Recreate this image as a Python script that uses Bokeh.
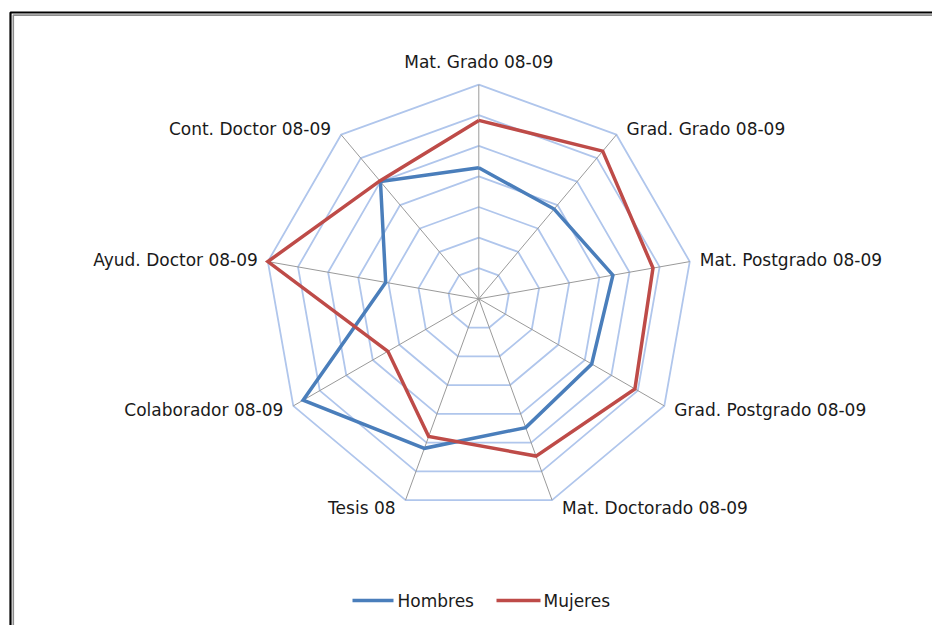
import math
from bokeh.plotting import figure
from bokeh.models import Range1d
from bokeh.core.properties import value
from bokeh.embed import file_html
from bokeh.resources import INLINE

# ---- data ----
categories = ["Mat. Grado 08-09", "Grad. Grado 08-09", "Mat. Postgrado 08-09",
              "Grad. Postgrado 08-09", "Mat. Doctorado 08-09", "Tesis 08",
              "Colaborador 08-09", "Ayud. Doctor 08-09", "Cont. Doctor 08-09"]
hombres = [4.28, 3.83, 4.45, 4.26, 4.48, 5.2, 6.63, 3.09, 5.0]
mujeres = [5.83, 6.3, 5.78, 5.89, 5.47, 4.79, 3.43, 7.0, 5.03]
series_names = ["Hombres", "Mujeres"]
ring_values = [1, 2, 3, 4, 5, 6, 7]

# ---- layout ----
W, H = 932, 625           # figure size (figure sits at page origin)
CX, CY = 478.3, 298.3     # centre in page pixels
S = 30.6                  # pixels per unit
FONT = "DejaVu Sans"
FS = "17px"
BLUE, RED = "#4A7EBB", "#BE4B48"

def X(px):
    return (px - CX) / S

def Y(py):
    return (CY - py) / S

p = figure(width=W, height=H, output_backend="svg", toolbar_location=None,
           x_range=Range1d(X(0), X(W)), y_range=Range1d(Y(H), Y(0)),
           min_border=0, outline_line_color=None, background_fill_color="white")
p.axis.visible = False
p.grid.visible = False

n = len(categories)
angles = [math.pi / 2 - 2 * math.pi * i / n for i in range(n)]

# rings
for r in ring_values:
    xs = [r * math.cos(a) for a in angles] + [r * math.cos(angles[0])]
    ys = [r * math.sin(a) for a in angles] + [r * math.sin(angles[0])]
    p.line(xs, ys, line_color="#B0C6EC", line_width=1.8)

# spokes
rmax = max(ring_values)
p.segment(x0=[0] * n, y0=[0] * n,
          x1=[rmax * math.cos(a) for a in angles],
          y1=[rmax * math.sin(a) for a in angles],
          line_color="#9A9A9A", line_width=1)

# series
for vals, col in ((hombres, BLUE), (mujeres, RED)):
    xs = [v * math.cos(a) for v, a in zip(vals, angles)]
    ys = [v * math.sin(a) for v, a in zip(vals, angles)]
    xs.append(xs[0]); ys.append(ys[0])
    p.line(xs, ys, line_color=col, line_width=3.5, line_join="miter")

# category labels
for cat, a in zip(categories, angles):
    ex, ey = rmax * math.cos(a), rmax * math.sin(a)
    c, s = math.cos(a), math.sin(a)
    if abs(c) < 0.1:
        align, dx, dy = "center", 0, 23 / S
    else:
        align = "left" if c > 0 else "right"
        dx = (10 if c > 0 else -10) / S
        dy = 8 * s / S
    p.text(x=[ex + dx], y=[ey + dy], text=[cat], text_align=align,
           text_baseline="middle", text_font=value(FONT),
           text_font_size=FS, text_color="#1a1a1a")

# legend
leg = [(352, 393, 397, BLUE, series_names[0]), (496, 540, 543, RED, series_names[1])]
for x0, x1, tx, col, name in leg:
    p.line([X(x0), X(x1)], [Y(600), Y(600)], line_color=col, line_width=3.5)
    p.text(x=[X(tx)], y=[Y(600)], text=[name], text_align="left",
           text_baseline="middle", text_font=value(FONT),
           text_font_size=FS, text_color="#1a1a1a")

# frame border (double line)
p.line([X(10), X(10), X(960)], [Y(660), Y(12), Y(12)], line_color="black", line_width=2.2)
p.line([X(12.8), X(12.8), X(960)], [Y(660), Y(14.6), Y(14.6)], line_color="#8c8c8c", line_width=1.6)

open("out.html", "w").write(file_html(p, INLINE))
